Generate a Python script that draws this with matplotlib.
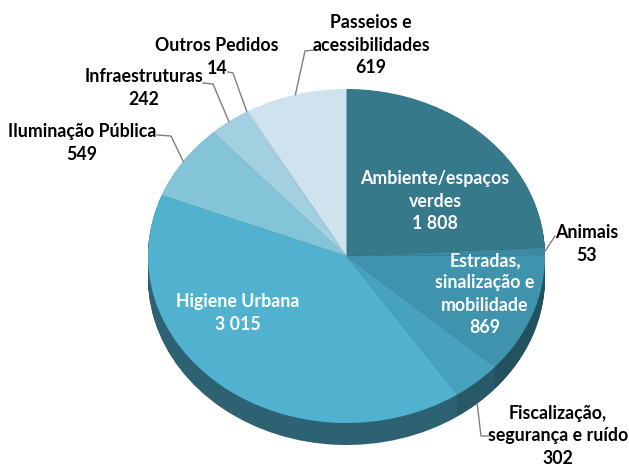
import numpy as np
import matplotlib.pyplot as plt

# data, clockwise from 12 o'clock
categories = ["Ambiente/espaços\nverdes", "Animais", "Estradas,\nsinalização e\nmobilidade",
              "Fiscalização,\nsegurança e ruído", "Higiene Urbana", "Iluminação Pública",
              "Infraestruturas", "Outros Pedidos", "Passeios e\nacessibilidades"]
values = [1808, 53, 869, 302, 3015, 549, 242, 14, 619]
value_labels = ["1 808", "53", "869", "302", "3 015", "549", "242", "14", "619"]
colors = ["#35798b", "#3b8aa1", "#3f93ad", "#47a2bd", "#50b2cf",
          "#83c4d9", "#a2d0e1", "#b3d9e8", "#cfe3ee"]

W, H = 629, 468
CX, CY, RX, RY = 346.5, 256, 198.5, 167
DEPTH = 22


def P(px, py):
    # pixel -> data coords
    return (px - CX) / RX, (CY - py) / RY


def darken(c, f):
    c = c.lstrip("#")
    r, g, b = [int(c[i:i + 2], 16) / 255 for i in (0, 2, 4)]
    return (r * f, g * f, b * f)


fig = plt.figure(figsize=(W / 100, H / 100), dpi=100)
ax = fig.add_axes([0, 0, 1, 1])

side_colors = [darken(c, 0.55) for c in colors]
for k in np.linspace(DEPTH / RY, 0, 30)[:-1]:
    ax.pie(values, colors=side_colors, startangle=90, counterclock=False,
           center=(0, -k), wedgeprops=dict(linewidth=0))
wedges, _ = ax.pie(values, colors=colors, startangle=90, counterclock=False,
                   wedgeprops=dict(linewidth=0))

ax.set_aspect("auto")
ax.set_xlim(P(0, 0)[0], P(W, 0)[0])
ax.set_ylim(P(0, H)[1], P(0, 0)[1])
ax.axis("off")

font = dict(family=["Lato", "DejaVu Sans"], fontweight="bold", fontsize=12.8)
LS = 1.38

# inside labels (white): index -> text centre in pixels
inside = {0: (435, 201), 2: (485, 294), 4: (238, 313)}
# outside labels: index -> (text centre, elbow point, line end)
outside = {
    1: ((587, 244), None, (555, 236)),
    3: ((558, 436), (481, 436), (489, 436)),
    5: ((82, 143), (171, 136), (157, 135)),
    6: ((144, 88), (213, 84), (203, 83)),
    7: ((217, 57), (233, 73), (228, 72)),
    8: ((371, 45), (305, 51), (314, 50)),
}

total = sum(values)
cum = np.cumsum([0] + values[:-1])
for i, (name, val) in enumerate(zip(categories, value_labels)):
    txt = name + "\n" + val
    if i in inside:
        x, y = P(*inside[i])
        ax.text(x, y, txt, ha="center", va="center", color="white",
                linespacing=LS, **font)
        continue
    (tx, ty), elbow, end = outside[i]
    ang = np.deg2rad(90 - 360 * (cum[i] + values[i] / 2) / total)
    sx, sy = np.cos(ang), np.sin(ang)
    if sy < 0:
        sy -= DEPTH / RY
    pts = [(sx, sy)]
    if elbow is not None:
        pts.append(P(*elbow))
    pts.append(P(*end))
    xs, ys = zip(*pts)
    ax.plot(xs, ys, color="#7f7f7f", lw=1)
    x, y = P(tx, ty)
    ax.text(x, y, txt, ha="center", va="center", color="black",
            linespacing=LS, **font)

fig.savefig("out.png", dpi=100)
